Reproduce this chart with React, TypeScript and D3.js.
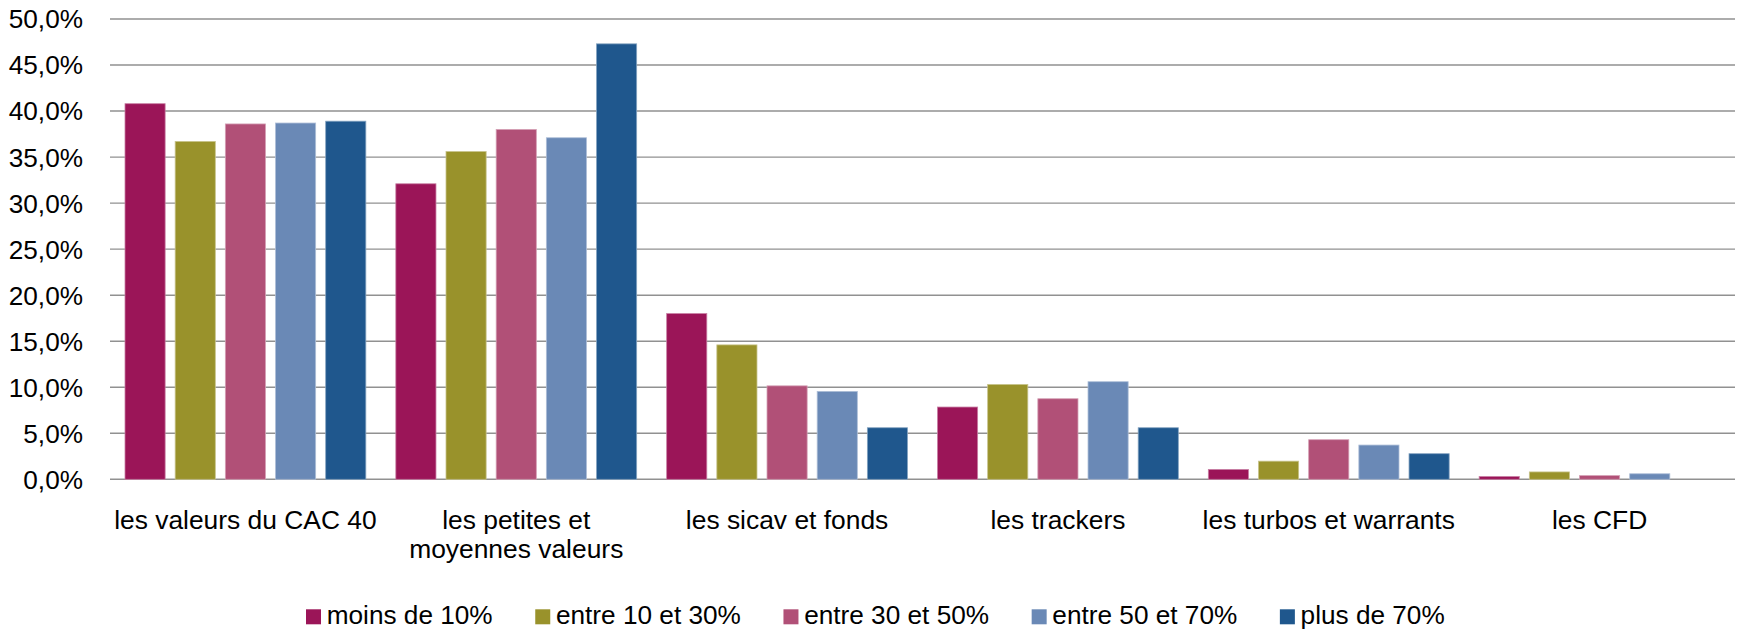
import React, { useEffect, useRef } from "react";
import * as d3 from "d3";

const categories: string[][] = [
  ["les valeurs du CAC 40"],
  ["les petites et", "moyennes valeurs"],
  ["les sicav et fonds"],
  ["les trackers"],
  ["les turbos et warrants"],
  ["les CFD"],
];
const seriesNames = ["moins de 10%", "entre 10 et 30%", "entre 30 et 50%", "entre 50 et 70%", "plus de 70%"];
const seriesColors = ["#9b1558", "#99922b", "#b15077", "#6a89b6", "#1f578d"];

const moins10 = [40.8, 32.1, 18.0, 7.85, 1.07, 0.3];
const entre10_30 = [36.7, 35.6, 14.6, 10.3, 1.97, 0.8];
const entre30_50 = [38.6, 38.0, 10.15, 8.75, 4.3, 0.4];
const entre50_70 = [38.7, 37.1, 9.55, 10.6, 3.72, 0.6];
const plus70 = [38.9, 47.3, 5.6, 5.6, 2.78, 0];
const seriesValues = [moins10, entre10_30, entre30_50, entre50_70, plus70];

const yTicks = [0, 5, 10, 15, 20, 25, 30, 35, 40, 45, 50];

const W = 1737;
const H = 632;
const FONT = "'Liberation Sans', Arial, sans-serif";

export default function App() {
  const ref = useRef<SVGSVGElement | null>(null);

  useEffect(() => {
    const svg = d3.select(ref.current);
    svg.selectAll("*").remove();

    const left = 110;
    const right = 1735;
    const top = 19;
    const bottom = 479.3;

    const catKeys = categories.map((c) => c.join(" "));
    const x0 = d3.scaleBand<string>().domain(catKeys).range([left, right]).paddingInner(0).paddingOuter(0);
    const cw = x0.bandwidth();
    const x1 = d3
      .scaleBand<string>()
      .domain(seriesNames)
      .range([15, cw - 15])
      .paddingInner(0.2)
      .paddingOuter(0);
    const y = d3.scaleLinear().domain([0, 50]).range([bottom, top]);

    // gridlines
    svg
      .append("g")
      .selectAll("line")
      .data(yTicks)
      .join("line")
      .attr("x1", left)
      .attr("x2", right)
      .attr("y1", (d) => y(d))
      .attr("y2", (d) => y(d))
      .attr("stroke", "#919191")
      .attr("stroke-width", 1.4);

    // y labels
    svg
      .append("g")
      .selectAll("text")
      .data(yTicks)
      .join("text")
      .attr("x", 83)
      .attr("y", (d) => y(d))
      .attr("dy", "0.36em")
      .attr("text-anchor", "end")
      .attr("font-family", FONT)
      .attr("font-size", 26.2)
      .attr("fill", "#000")
      .text((d) => d3.format(".1f")(d).replace(".", ",") + "%");

    // bars
    const groups = svg
      .append("g")
      .selectAll("g")
      .data(catKeys)
      .join("g")
      .attr("transform", (d) => `translate(${x0(d)},0)`);

    groups
      .selectAll("rect")
      .data((_, ci) =>
        seriesNames.map((s, si) => ({ s, si, v: seriesValues[si][ci] }))
      )
      .join("rect")
      .filter((d) => d.v > 0)
      .attr("x", (d) => x1(d.s)!)
      .attr("width", x1.bandwidth())
      .attr("y", (d) => y(d.v))
      .attr("height", (d) => y(0) - y(d.v))
      .attr("fill", (d) => seriesColors[d.si])
      .attr("stroke", (d) => d3.interpolateRgb(seriesColors[d.si], "#ffffff")(0.45))
      .attr("stroke-width", 0.8);

    // x labels
    const xl = svg.append("g");
    categories.forEach((lines, i) => {
      const cx = x0(catKeys[i])! + cw / 2;
      lines.forEach((ln, li) => {
        xl.append("text")
          .attr("x", cx)
          .attr("y", 529.3 + li * 28.5)
          .attr("text-anchor", "middle")
          .attr("font-family", FONT)
          .attr("font-size", 26.4)
          .attr("fill", "#000")
          .text(ln);
      });
    });

    // legend
    const lg = svg.append("g");
    let lx = 306;
    seriesNames.forEach((name, i) => {
      lg.append("rect")
        .attr("x", lx)
        .attr("y", 609.3)
        .attr("width", 15)
        .attr("height", 15)
        .attr("fill", seriesColors[i]);
      const t = lg
        .append("text")
        .attr("x", lx + 20.7)
        .attr("y", 624)
        .attr("font-family", FONT)
        .attr("font-size", 26.2)
        .attr("fill", "#000")
        .text(name);
      const tw = (t.node() as SVGTextElement).getComputedTextLength();
      lx = lx + 20.7 + tw + 42.6;
    });
  }, []);

  return (
    <svg
      ref={ref}
      width={W}
      height={H}
      style={{ position: "absolute", left: 0, top: 0, background: "#fff" }}
    />
  );
}
